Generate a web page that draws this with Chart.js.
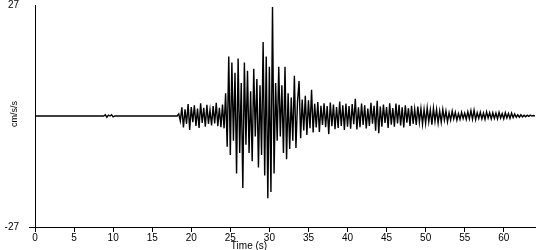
<!DOCTYPE html>
<html>
<head>
<meta charset="utf-8">
<script src="https://cdn.jsdelivr.net/npm/chart.js@4/dist/chart.umd.min.js"></script>
<style>
  body { margin: 0; background: #fff; }
  #wrap { width: 550px; height: 250px; position: relative; }
</style>
</head>
<body>
<div id="wrap"><canvas id="accelChart"></canvas></div>
<script>
// Quiet part before the P arrival (seconds / cm/s/s)
const quietTimes = [0, 8.8, 9.0, 9.2, 9.4, 9.6, 9.8, 10.0, 10.2, 18.2];
const quietValues = [0, 0, 0.3, -0.3, 0.2, 0, 0.3, -0.2, 0, 0];

// Event part, one sample every 0.2 s starting at 18.4 s
const eventStart = 18.4;
const sampleStep = 0.2;
const eventValues = [
  0.5, -1.2, 2.1,
  -2.8, 1.6, -1.9, 2.9, -3.4,     // 19
  2.2, -1.5, 2.6, -2.4, 1.8,      // 20
  -2.9, 3.1, -1.7, 2.0, -2.6,     // 21
  2.7, -1.9, 1.5, -2.3, 2.4,      // 22
  -1.8, 3.2, -2.5, 2.0, -2.7,     // 23
  2.8, -3.0, 5.5, -7.5, 14.5,     // 24
  -9.5, 13.0, -6.0, 10.5, -14.0,  // 25
  14.0, -9.0, 8.0, -17.5, 13.0,   // 26
  -7.0, 11.0, -9.0, 6.0, -11.0,   // 27
  11.5, -5.0, 9.0, -12.5, 7.5,    // 28
  -9.5, 18.0, -14.5, 14.5, -20.0, // 29
  12.0, -18.5, 26.5, -14.0, 8.0,  // 30
  -6.0, 12.0, -5.0, 7.5, -9.0,    // 31
  12.0, -10.5, 5.5, -8.0, 4.5,    // 32
  -6.0, 9.8, -7.8, 3.5, 8.5,      // 33
  -5.4, 4.0, -3.5, 4.9, -4.6,     // 34
  3.8, -3.0, 6.4, -4.0, 3.0,      // 35
  -2.8, 3.4, -3.9, 2.5, -2.2,     // 36
  3.1, -2.7, 2.4, -4.4, 3.3,      // 37
  -2.5, 2.8, -3.2, 2.2, -2.9,     // 38
  3.5, -2.4, 2.6, -3.4, 3.0,      // 39
  -2.6, 2.4, -3.1, 2.9, -2.0,     // 40
  4.2, -3.3, 2.1, -2.7, 3.0,      // 41
  -2.2, 2.6, -3.0, 1.8, -2.4,     // 42
  3.2, -1.9, 2.5, -3.6, 3.7,      // 43
  -4.2, 2.3, -2.6, 2.8, -1.7,     // 44
  2.2, -2.9, 3.1, -2.1, 1.9,      // 45
  -2.6, 3.0, -1.8, 2.7, -2.3,     // 46
  2.1, -2.8, 2.6, -1.6, 1.9,      // 47
  -2.4, 2.5, -1.9, 1.7, -2.2,     // 48
  2.3, -1.5, 1.8, -2.0, 1.6,      // 49
  -1.8, 2.0, -1.4, 1.5, -2.1,     // 50
  1.9, -1.3, 1.6, -1.7, 1.2,      // 51
  -1.5, 1.6, -1.0, 1.2, -1.4,     // 52
  0.8, -1.0, 1.2, -0.7, 0.9,      // 53
  -1.0, 0.6, -0.8, 0.9, -0.6,     // 54
  0.7, -0.8, 1.0, -0.7, 1.3,      // 55
  -0.8, 1.4, -0.9, 0.8, -0.6,     // 56
  0.9, -0.7, 0.7, -0.8, 1.0,      // 57
  -0.5, 0.8, -0.7, 0.8, -0.6,     // 58
  0.7, -0.7, 0.9, -0.5, 0.6,      // 59
  -0.7, 0.8, -0.5, 0.6, -0.6,     // 60
  0.7, -0.4, 0.5, -0.3, 0.3,      // 61
  -0.3, 0.3, -0.2, 0.2, -0.2,     // 62
  0.2, -0.1, 0.2, 0.0, 0.1,       // 63
  0.0
];

const yLimit = 27;
const timeMax = 64;

// build x/y points
const points = quietTimes.map((t, i) => ({ x: t, y: quietValues[i] }));
eventValues.forEach((v, i) => {
  points.push({ x: +(eventStart + i * sampleStep).toFixed(2), y: v });
});

// axis titles drawn by hand so they sit where the original has them
const axisTitles = {
  id: 'axisTitles',
  afterDraw(chart) {
    const ctx = chart.ctx;
    ctx.save();
    ctx.fillStyle = '#000';
    ctx.font = '10px "Liberation Sans", Arial, sans-serif';
    ctx.textAlign = 'center';
    ctx.textBaseline = 'middle';
    ctx.fillText('Time (s)', 249, 246);
    ctx.translate(15, 114);
    ctx.rotate(-Math.PI / 2);
    ctx.font = '9px "Liberation Sans", Arial, sans-serif';
    ctx.fillText('cm/s/s', 0, 0);
    ctx.restore();
  }
};

const ctxAccel = document.getElementById('accelChart').getContext('2d');
const accelChart = new Chart(ctxAccel, {
  type: 'line',
  data: {
    datasets: [{
      data: points,
      borderColor: '#000',
      borderWidth: 1.4,
      pointRadius: 0,
      tension: 0,
      fill: false,
    }]
  },
  options: {
    responsive: true,
    maintainAspectRatio: false,
    animation: false,
    events: [],
    layout: { padding: { top: 5, right: 15, left: 0, bottom: 0 } },
    plugins: { legend: { display: false }, tooltip: { enabled: false } },
    scales: {
      x: {
        type: 'linear',
        min: 0,
        max: timeMax,
        afterFit: (s) => { s.height = 23; },
        border: { color: '#000', width: 1 },
        grid: { drawOnChartArea: false, drawTicks: true, tickLength: 5, color: '#000' },
        ticks: {
          stepSize: 5,
          includeBounds: false,
          maxRotation: 0,
          padding: 0,
          color: '#000',
          font: { family: '"Liberation Sans", Arial, sans-serif', size: 10 },
        },
      },
      y: {
        min: -yLimit,
        max: yLimit,
        afterFit: (s) => { s.width = 35; s.paddingTop = 0; s.paddingBottom = 0; },
        border: { color: '#000', width: 1 },
        grid: {
          drawOnChartArea: false,
          drawTicks: true,
          tickLength: 6,
          color: (c) => (c.tick && c.tick.value === -yLimit ? '#000' : 'rgba(0,0,0,0)'),
        },
        ticks: {
          stepSize: yLimit,
          padding: 10,
          color: '#000',
          font: { family: '"Liberation Sans", Arial, sans-serif', size: 10 },
          callback: (v) => (v === 0 ? '' : v),
        },
      },
    },
  },
  plugins: [axisTitles],
});
</script>
</body>
</html>
